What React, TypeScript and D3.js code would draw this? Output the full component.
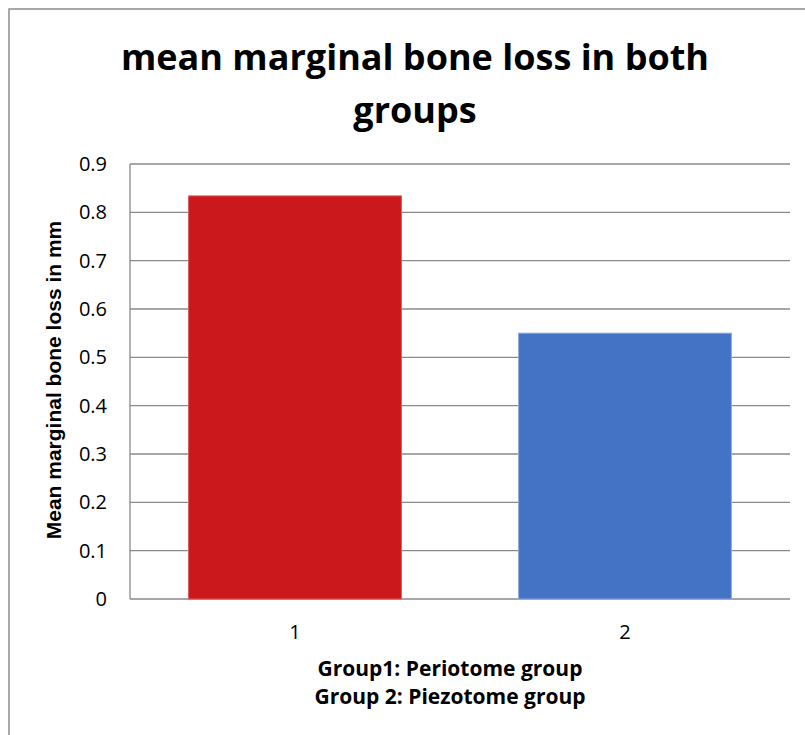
import React from "react";
import * as d3 from "d3";

const categories = ["1", "2"];
const values = [0.834, 0.55];
const barColors = ["#CB181C", "#4472C4"];
const barStrokes = ["#E0585B", "#8EAADB"];
const yTicks = [0, 0.1, 0.2, 0.3, 0.4, 0.5, 0.6, 0.7, 0.8, 0.9];
const titleLines = ["mean marginal bone loss in both", "groups"];
const yAxisLabel = "Mean marginal bone loss in mm";
const xAxisLines = ["Group1: Periotome group", "Group 2: Piezotome group"];

export default function App() {
  const W = 805, H = 735;
  const left = 130, right = 790, top = 164, bottom = 599;
  const y = d3.scaleLinear().domain([0, 0.9]).range([bottom, top]);
  const x = d3.scaleBand<string>().domain(categories).range([left, right]).paddingInner(0.355).paddingOuter(0.1775);
  const grid = "#8a8a8a";
  const fontMain = "'Open Sans', 'Noto Sans', sans-serif";
  return (
    <svg width={W} height={H} style={{ position: "absolute", left: 0, top: 0 }}>
      <rect x={0} y={0} width={W} height={H} fill="#fff" />
      <rect x={9} y={9} width={812} height={760} fill="none" stroke="#8c8c8c" strokeWidth={1.5} />
      {titleLines.map((t, i) => (
        <text key={t} x={415} y={70 + i * 53} textAnchor="middle" fontFamily={fontMain} fontWeight={700} fontSize={36} fill="#000">
          {t}
        </text>
      ))}
      {yTicks.map((t) => (
        <line key={"g" + t} x1={left} x2={right} y1={y(t)} y2={y(t)} stroke={grid} strokeWidth={1.3} />
      ))}
      <line x1={left} x2={left} y1={top} y2={bottom} stroke={grid} strokeWidth={1.3} />
      {categories.map((c, i) => (
        <rect key={c} x={x(c)} y={y(values[i])} width={x.bandwidth()} height={bottom - y(values[i])} fill={barColors[i]} stroke={barStrokes[i]} strokeWidth={1} />
      ))}
      {yTicks.map((t) => (
        <text key={"t" + t} x={107} y={y(t)} dy="0.35em" textAnchor="end" fontFamily={fontMain} fontSize={20} fill="#000">
          {d3.format("")(+t.toFixed(1))}
        </text>
      ))}
      {categories.map((c) => (
        <text key={"x" + c} x={(x(c) as number) + x.bandwidth() / 2} y={632} dy="0.35em" textAnchor="middle" fontFamily={fontMain} fontSize={20} fill="#000">
          {c}
        </text>
      ))}
      <text transform={`translate(${61},${380}) rotate(-90)`} textAnchor="middle" fontFamily="'Liberation Sans', Arial, sans-serif" fontWeight={700} fontSize={21} fill="#000">
        {yAxisLabel}
      </text>
      {xAxisLines.map((t, i) => (
        <text key={t} x={450} y={676 + i * 28} textAnchor="middle" fontFamily={fontMain} fontWeight={700} fontSize={21} fill="#000">
          {t}
        </text>
      ))}
    </svg>
  );
}
